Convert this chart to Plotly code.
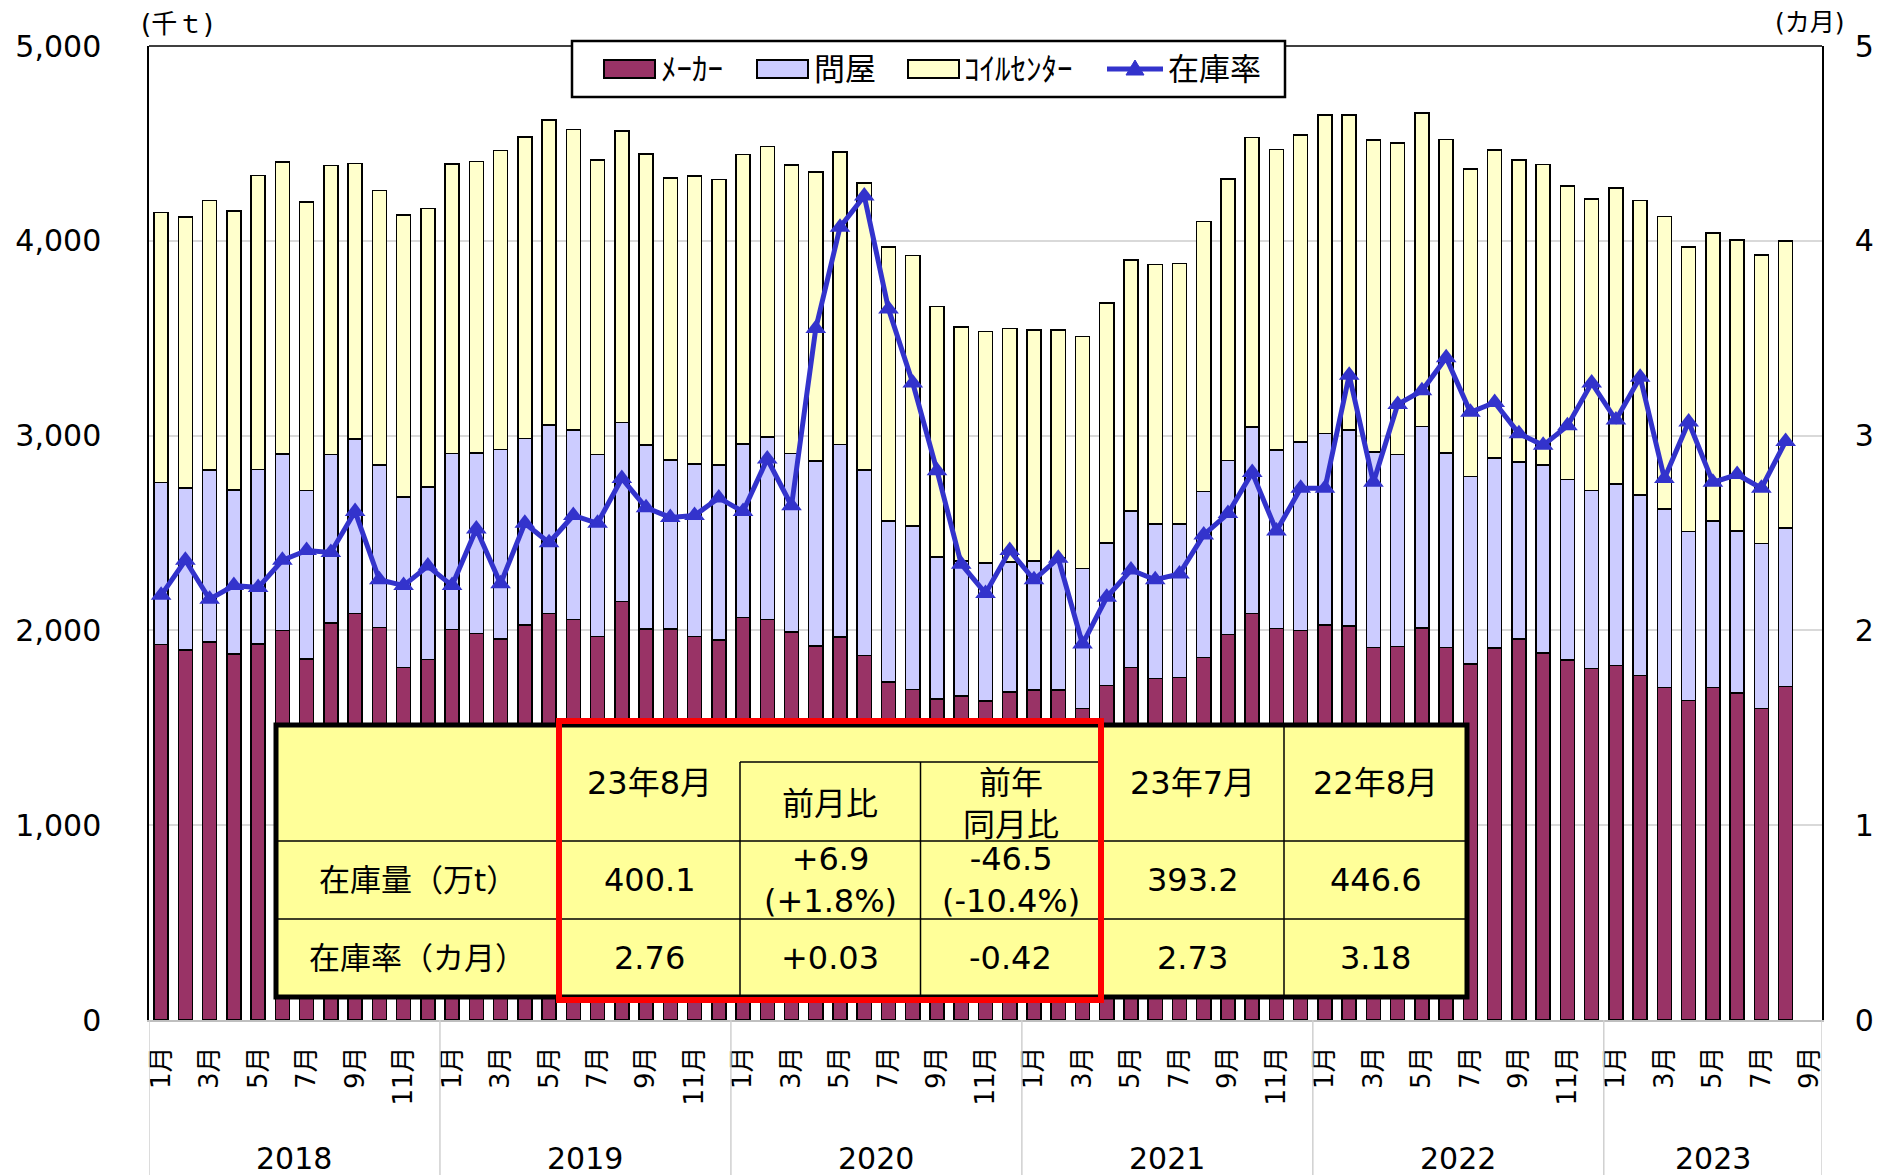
import plotly.graph_objects as go

#---データ（2018年1月〜2023年8月、単位：千t）
years = ["2018", "2019", "2020", "2021", "2022", "2023"]
month_names = [f"{m}月" for m in range(1, 13)]
axis_months = month_names * 5 + month_names[:9]  # 軸は2023年9月まで

maker = [1928, 1899, 1940, 1880, 1930, 2000, 1854, 2037, 2088, 2014, 1810, 1851,
         2004, 1985, 1957, 2029, 2088, 2057, 1969, 2148, 2006, 2006, 1969, 1950,
         2066, 2057, 1991, 1919, 1967, 1872, 1734, 1697, 1648, 1664, 1637, 1683,
         1693, 1693, 1599, 1716, 1810, 1753, 1759, 1860, 1979, 2088, 2010, 2000,
         2027, 2023, 1913, 1917, 2012, 1913, 1827, 1909, 1955, 1885, 1847, 1804,
         1819, 1769, 1707, 1639, 1707, 1679, 1600, 1711]
wholesale = [830, 832, 884, 841, 896, 906, 863, 867, 894, 836, 876, 886,
             904, 925, 972, 955, 966, 973, 933, 919, 945, 869, 884, 898,
             892, 936, 917, 950, 987, 952, 828, 838, 729, 693, 709, 667,
             663, 678, 720, 733, 802, 793, 787, 853, 893, 956, 917, 968,
             984, 1007, 1003, 985, 1034, 997, 964, 977, 910, 963, 927, 913,
             933, 927, 917, 868, 855, 832, 847, 814]
coil = [1388, 1391, 1384, 1431, 1508, 1498, 1483, 1483, 1414, 1408, 1446, 1428,
        1485, 1496, 1534, 1550, 1566, 1541, 1514, 1497, 1494, 1448, 1479, 1467,
        1485, 1491, 1481, 1483, 1503, 1473, 1407, 1389, 1285, 1200, 1188, 1200,
        1185, 1170, 1189, 1232, 1289, 1332, 1337, 1386, 1445, 1487, 1541, 1576,
        1634, 1615, 1601, 1601, 1609, 1609, 1578, 1580, 1551, 1543, 1508, 1497,
        1520, 1512, 1502, 1460, 1477, 1493, 1481, 1473]
rate = [2.18, 2.36, 2.16, 2.23, 2.22, 2.36, 2.41, 2.40, 2.61, 2.26, 2.23, 2.33,
        2.23, 2.52, 2.24, 2.55, 2.45, 2.59, 2.55, 2.78, 2.63, 2.58, 2.59, 2.68,
        2.61, 2.88, 2.64, 3.55, 4.07, 4.23, 3.65, 3.27, 2.82, 2.34, 2.19, 2.41,
        2.26, 2.37, 1.93, 2.17, 2.31, 2.26, 2.29, 2.49, 2.60, 2.81, 2.51, 2.73,
        2.73, 3.31, 2.76, 3.16, 3.23, 3.40, 3.12, 3.17, 3.01, 2.95, 3.05, 3.27,
        3.08, 3.30, 2.78, 3.07, 2.76, 2.80, 2.73, 2.97]

#---表
table_header = ["", "23年8月", "前月比", "前年<br>同月比", "23年7月", "22年8月"]
row_stock = ["在庫量（万t）", "400.1", "+6.9<br>(+1.8%)", "-46.5<br>(-10.4%)", "393.2", "446.6"]
row_rate = ["在庫率（カ月）", "2.76", "+0.03", "-0.42", "2.73", "3.18"]

#---凡例
legend_names = ["ﾒｰｶｰ", "問屋", "ｺｲﾙｾﾝﾀｰ", "在庫率"]
colors = ["#993366", "#CCCCFF", "#FFFFCC", "#3333CC"]

FONT = "DejaVu Sans, Noto Sans CJK JP"
# ページ余白(8px)の分だけ図を小さくする
PAGE_OFF = 8
W, H = 1883 - PAGE_OFF, 1175 - PAGE_OFF
L, R, T, B = 149 - PAGE_OFF, 61, 46 - PAGE_OFF, 155
PLOT_W, PLOT_H = W - L - R, H - T - B

x = list(range(len(maker)))

fig = go.Figure()
for vals, name, col in zip([maker, wholesale, coil], legend_names[:3], colors[:3]):
    fig.add_trace(go.Bar(x=x, y=vals, name=name,
                         marker=dict(color=col, line=dict(color="black", width=1.5))))
fig.add_trace(go.Scatter(x=x, y=rate, name=legend_names[3], yaxis="y2", mode="lines+markers",
                         line=dict(color=colors[3], width=5),
                         marker=dict(symbol="triangle-up", size=18, color=colors[3])))

# ページ上のピクセル -> paper 座標
def px(v):
    return (v - 149) / PLOT_W

def py(v):
    return (46 + PLOT_H - v) / PLOT_H

shapes = []
annotations = []

# 枠の上辺
shapes.append(dict(type="line", xref="paper", yref="paper", x0=0, x1=1, y0=1, y1=1,
                   line=dict(color="black", width=1.5)))
# 年の区切り線
for b in [-0.5, 11.5, 23.5, 35.5, 47.5, 59.5, 68.5]:
    shapes.append(dict(type="line", xref="x", yref="paper", x0=b, x1=b, y0=0, y1=py(1180),
                       line=dict(color="#D0D0D0", width=1.5)))

#---凡例（手描き）
shapes.append(dict(type="rect", xref="paper", yref="paper", x0=px(572), x1=px(1285),
                   y0=py(41), y1=py(97), fillcolor="white", line=dict(color="black", width=2.5)))
for x0, col in zip([604, 757, 908], colors[:3]):
    shapes.append(dict(type="rect", xref="paper", yref="paper", x0=px(x0), x1=px(x0 + 51),
                       y0=py(60), y1=py(78), fillcolor=col, line=dict(color="black", width=2)))
shapes.append(dict(type="line", xref="paper", yref="paper", x0=px(1107), x1=px(1163),
                   y0=py(69), y1=py(69), line=dict(color=colors[3], width=5)))
shapes.append(dict(type="path", xref="paper", yref="paper",
                   path=f"M {px(1126)},{py(75)} L {px(1144)},{py(75)} L {px(1135)},{py(60)} Z",
                   fillcolor=colors[3], line=dict(color=colors[3], width=1)))
for tx, name in zip([659, 812, 962, 1166], legend_names):
    annotations.append(dict(x=px(tx), y=py(69), xref="paper", yref="paper", text=name,
                            showarrow=False, xanchor="left", yanchor="middle",
                            font=dict(size=31, color="black", family=FONT)))

#---表
cols = [276, 559, 740, 920.5, 1101, 1284, 1467]
rows = [725, 762, 841, 919, 997]
shapes.append(dict(type="rect", xref="paper", yref="paper", x0=px(cols[0]), x1=px(cols[-1]),
                   y0=py(rows[0]), y1=py(rows[-1]), fillcolor="#FFFF99", line=dict(color="black", width=5)))
thin = dict(color="black", width=1.5)
shapes.append(dict(type="line", xref="paper", yref="paper", x0=px(cols[2]), x1=px(cols[4]),
                   y0=py(rows[1]), y1=py(rows[1]), line=thin))
for r in rows[2:4]:
    shapes.append(dict(type="line", xref="paper", yref="paper", x0=px(cols[0]), x1=px(cols[-1]),
                       y0=py(r), y1=py(r), line=thin))
for c in [cols[1], cols[4], cols[5]]:
    shapes.append(dict(type="line", xref="paper", yref="paper", x0=px(c), x1=px(c),
                       y0=py(rows[0]), y1=py(rows[-1]), line=thin))
for c in [cols[2], cols[3]]:
    shapes.append(dict(type="line", xref="paper", yref="paper", x0=px(c), x1=px(c),
                       y0=py(rows[1]), y1=py(rows[-1]), line=thin))
shapes.append(dict(type="rect", xref="paper", yref="paper", x0=px(559), x1=px(1101),
                   y0=py(721), y1=py(1000), line=dict(color="#FF0000", width=6)))

centers = [(cols[i] + cols[i + 1]) / 2 for i in range(6)]
for i, txt in enumerate(table_header):
    if not txt:
        continue
    yc = (rows[0] + rows[2]) / 2 if i in (1, 4, 5) else (rows[1] + rows[2]) / 2 + 2
    annotations.append(dict(x=px(centers[i]), y=py(yc), xref="paper", yref="paper", text=txt,
                            showarrow=False, xanchor="center", yanchor="middle",
                            font=dict(size=32, color="black", family=FONT)))
for row, (r0, r1) in [(row_stock, (rows[2], rows[3])), (row_rate, (rows[3], rows[4]))]:
    for i, txt in enumerate(row):
        annotations.append(dict(x=px(centers[i]), y=py((r0 + r1) / 2), xref="paper", yref="paper",
                                text=txt, showarrow=False, xanchor="center", yanchor="middle",
                                font=dict(size=32 if i else 31, color="black", family=FONT)))

# 年ラベル
starts = [0, 12, 24, 36, 48, 60]
ends = [11, 23, 35, 47, 59, 68]
for yr, s, e in zip(years, starts, ends):
    annotations.append(dict(x=(s + e) / 2, y=py(1158), xref="x", yref="paper", text=yr,
                            showarrow=False, xanchor="center", yanchor="middle",
                            font=dict(size=30, color="black", family=FONT)))
# 単位
annotations.append(dict(x=px(177), y=py(24), xref="paper", yref="paper", text="(千ｔ)",
                        showarrow=False, xanchor="center", yanchor="middle",
                        font=dict(size=26, color="black", family=FONT)))
annotations.append(dict(x=px(1810), y=py(22), xref="paper", yref="paper", text="(カ月)",
                        showarrow=False, xanchor="center", yanchor="middle",
                        font=dict(size=25, color="black", family=FONT)))

fig.update_layout(
    width=W, height=H,
    margin=dict(l=L, r=R, t=T, b=B, autoexpand=False),
    paper_bgcolor="white", plot_bgcolor="white",
    barmode="stack", bargap=0.42,
    font=dict(family=FONT, size=28, color="black"),
    showlegend=False,
    xaxis=dict(range=[-0.5, 68.5], tickmode="array", tickvals=list(range(0, 69, 2)),
               ticktext=axis_months[0::2], tickangle=-90, tickfont=dict(size=26),
               showgrid=False, showline=True, linecolor="#BFBFBF", linewidth=2,
               ticks="", ticklabelstandoff=14, zeroline=False, automargin=False),
    yaxis=dict(range=[0, 5000], dtick=1000, tickformat=",", tickfont=dict(size=30),
               showgrid=True, gridcolor="#D9D9D9", gridwidth=2, showline=True,
               linecolor="black", linewidth=1.5, ticks="", ticklabelstandoff=40,
               zeroline=False, automargin=False),
    yaxis2=dict(range=[0, 5], dtick=1, overlaying="y", side="right", tickfont=dict(size=30),
                showgrid=False, showline=True, linecolor="black", linewidth=1.5,
                ticks="", ticklabelstandoff=25, zeroline=False, automargin=False),
    shapes=shapes,
    annotations=annotations,
)

fig.write_html("out.html")
